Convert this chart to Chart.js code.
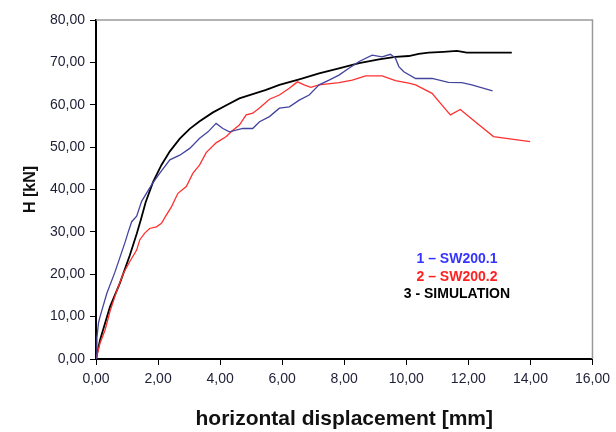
<!DOCTYPE html>
<html>
<head>
<meta charset="utf-8">
<script src="https://cdn.jsdelivr.net/npm/chart.js@4.4.1/dist/chart.umd.min.js"></script>
<style>
  html, body { margin: 0; padding: 0; background: #fff; }
  #wrap { width: 616px; height: 432px; }
</style>
</head>
<body>
<div id="wrap"><canvas id="c" width="616" height="432"></canvas></div>
<script>
// ---- Data ----
const seriesNames = ["1 \u2013 SW200.1", "2 \u2013 SW200.2", "3 - SIMULATION"];

const sw1X = [0, 0.03, 0.08, 0.13, 0.35, 0.61, 0.93, 1.04, 1.15, 1.31, 1.47, 1.79, 2.05, 2.38, 2.70, 3.02, 3.34, 3.61, 3.87, 4.09, 4.30, 4.73, 5.05, 5.27, 5.59, 5.91, 6.23, 6.55, 6.87, 7.19, 7.51, 7.83, 8.15, 8.48, 8.90, 9.22, 9.49, 9.65, 9.76, 9.92, 10.30, 10.83, 11.36, 11.79, 12.11, 12.78];
const sw1Y = [0, 5.0, 8.5, 10.0, 15.5, 20.5, 27.4, 30.0, 32.4, 33.7, 37.2, 41.1, 43.8, 47.0, 48.1, 49.7, 52.1, 53.6, 55.6, 54.4, 53.6, 54.4, 54.4, 56.0, 57.2, 59.2, 59.5, 61.1, 62.3, 64.7, 65.8, 67.0, 68.6, 70.2, 71.7, 71.3, 71.9, 71.0, 69.0, 67.8, 66.2, 66.2, 65.3, 65.2, 64.7, 63.3];

const sw2X = [0, 0.13, 0.29, 0.45, 0.66, 0.88, 1.09, 1.31, 1.41, 1.57, 1.73, 1.95, 2.11, 2.27, 2.43, 2.64, 2.91, 3.12, 3.34, 3.55, 3.87, 4.20, 4.41, 4.62, 4.84, 5.05, 5.26, 5.59, 5.91, 6.23, 6.49, 6.71, 6.92, 7.19, 7.83, 8.26, 8.69, 9.22, 9.65, 10.08, 10.30, 10.83, 11.15, 11.42, 11.74, 12.22, 12.81, 13.40, 13.99];
const sw2Y = [0, 3.7, 6.8, 11.2, 15.9, 20.2, 23.0, 25.7, 28.1, 29.7, 30.8, 31.2, 32.0, 34.0, 35.9, 39.1, 40.7, 43.8, 45.8, 48.7, 51.0, 52.5, 54.0, 55.2, 57.6, 58.0, 59.2, 61.3, 62.3, 63.9, 65.4, 64.7, 64.1, 64.7, 65.2, 65.8, 66.8, 66.8, 65.7, 65.1, 64.7, 62.7, 59.9, 57.6, 58.9, 56.0, 52.5, 51.9, 51.3];

const simX = [0, 0.13, 0.45, 0.77, 1.09, 1.31, 1.45, 1.60, 1.84, 2.11, 2.38, 2.70, 3.02, 3.34, 3.77, 4.20, 4.62, 5.05, 5.48, 5.91, 6.55, 7.19, 7.83, 8.48, 9.12, 9.65, 10.08, 10.40, 10.72, 11.20, 11.63, 11.95, 12.40, 13.40];
const simY = [0, 4.5, 12.3, 17.9, 24.5, 29.5, 33.0, 37.0, 41.8, 45.8, 49.0, 52.0, 54.3, 56.1, 58.2, 59.9, 61.5, 62.5, 63.5, 64.7, 66.0, 67.4, 68.6, 69.8, 70.7, 71.3, 71.5, 72.0, 72.3, 72.5, 72.7, 72.3, 72.3, 72.3];

const xTicks = [0, 2, 4, 6, 8, 10, 12, 14, 16];
const yTicks = [0, 10, 20, 30, 40, 50, 60, 70, 80];
const xTitle = "horizontal displacement [mm]";
const yTitle = "H [kN]";

const zip = (xs, ys) => xs.map((x, i) => ({ x: x, y: ys[i] }));
const fmt = v => Number(v).toFixed(2).replace('.', ',');

const colors = ['#44449e', '#ff3030', '#000000'];
const legendColors = ['#3535ff', '#ff2020', '#000000'];

// frame (top/right grey lines) + legend text
const decor = {
  id: 'decor',
  beforeDatasetsDraw(chart) {
    const { ctx, chartArea: a } = chart;
    ctx.save();
    ctx.strokeStyle = '#9a9a9a';
    ctx.lineWidth = 1.5;
    ctx.beginPath();
    ctx.moveTo(a.left, a.top);
    ctx.lineTo(a.right, a.top);
    ctx.lineTo(a.right, a.bottom);
    ctx.stroke();
    ctx.restore();
  },
  afterDatasetsDraw(chart) {
    const { ctx, chartArea: a } = chart;
    const w = a.right - a.left, h = a.bottom - a.top;
    const cx = a.left + w * 0.727;
    const y0 = a.top + h * 0.705;
    ctx.save();
    ctx.font = 'bold 14px "Liberation Sans", Arial, sans-serif';
    ctx.textAlign = 'center';
    ctx.textBaseline = 'middle';
    seriesNames.forEach((s, i) => {
      ctx.fillStyle = legendColors[i];
      ctx.fillText(s, cx, y0 + i * 17.8);
    });
    ctx.restore();
  }
};

new Chart(document.getElementById('c'), {
  type: 'scatter',
  data: {
    datasets: [
      { label: seriesNames[0], data: zip(sw1X, sw1Y), borderColor: colors[0], borderWidth: 1.3 },
      { label: seriesNames[1], data: zip(sw2X, sw2Y), borderColor: colors[1], borderWidth: 1.3 },
      { label: seriesNames[2], data: zip(simX, simY), borderColor: colors[2], borderWidth: 1.8 }
    ].map(d => Object.assign(d, { showLine: true, pointRadius: 0, tension: 0, fill: false }))
  },
  options: {
    responsive: false,
    animation: false,
    layout: { padding: { left: 0, top: 20, right: 19, bottom: 0 } },
    plugins: { legend: { display: false }, tooltip: { enabled: false } },
    scales: {
      x: {
        type: 'linear', min: 0, max: 16,
        afterBuildTicks: s => { s.ticks = xTicks.map(v => ({ value: v })); },
        afterFit: s => { s.height = 73; },
        ticks: { callback: fmt, color: '#1e1e36', padding: 6, maxRotation: 0,
                 font: { family: '"Liberation Sans", Arial, sans-serif', size: 14 } },
        grid: { display: true, drawOnChartArea: false, drawTicks: true, tickLength: 6, color: '#000' },
        border: { display: true, color: '#000', width: 2 },
        title: { display: true, text: xTitle, color: '#111',
                 font: { family: '"Liberation Sans", Arial, sans-serif', size: 21, weight: 'bold' },
                 padding: { top: 0, bottom: 0 } }
      },
      y: {
        type: 'linear', min: 0, max: 80,
        afterBuildTicks: s => { s.ticks = yTicks.map(v => ({ value: v })); },
        afterFit: s => { s.width = 96; },
        ticks: { callback: fmt, color: '#1e1e36', padding: 5,
                 font: { family: '"Liberation Sans", Arial, sans-serif', size: 14 } },
        grid: { display: true, drawOnChartArea: false, drawTicks: true, tickLength: 6, color: '#000' },
        border: { display: true, color: '#000', width: 2 },
        title: { display: true, text: yTitle, color: '#111',
                 font: { family: '"Liberation Sans", Arial, sans-serif', size: 16, weight: 'bold' },
                 padding: { top: 21, bottom: 0 } }
      }
    }
  },
  plugins: [decor]
});
</script>
</body>
</html>
